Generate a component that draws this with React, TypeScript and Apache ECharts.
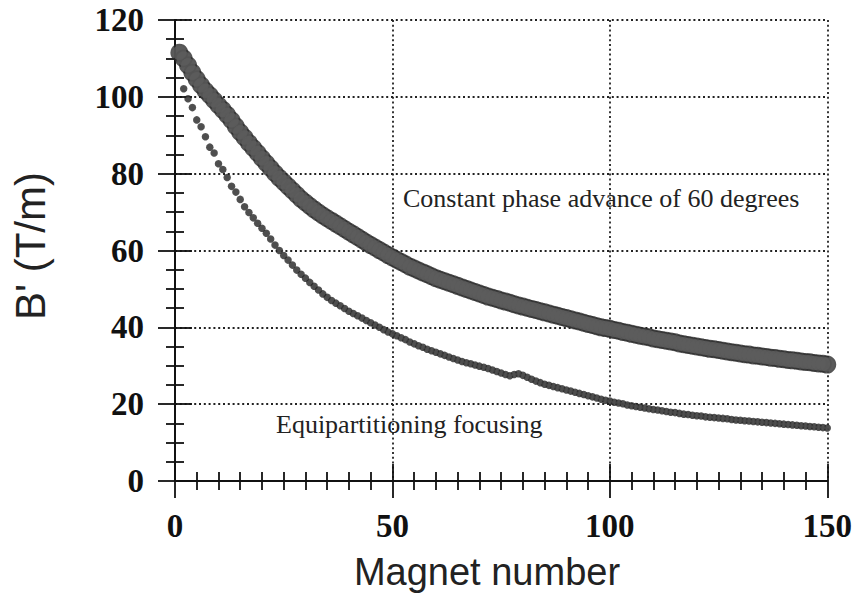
import React, { useEffect, useRef } from "react";
import * as echarts from "echarts";

// B' (T/m) for constant phase advance of 60 degrees, magnets n = 1..150
const constantPhase: number[] = [
  111.5, 110.0, 108.2, 106.3, 104.6, 103.0, 101.6, 100.4, 99.1, 97.8,
  96.6, 95.3, 93.9, 92.3, 90.8, 89.4, 88.0, 86.7, 85.4, 84.0,
  82.7, 81.4, 80.1, 78.9, 77.8, 76.7, 75.6, 74.5, 73.4, 72.5,
  71.6, 70.7, 69.9, 69.1, 68.4, 67.7, 67.0, 66.3, 65.6, 64.9,
  64.2, 63.5, 62.8, 62.1, 61.4, 60.8, 60.1, 59.5, 58.8, 58.2,
  57.6, 57.0, 56.4, 55.8, 55.3, 54.8, 54.3, 53.8, 53.3, 52.8,
  52.4, 52.0, 51.6, 51.2, 50.8, 50.4, 50.0, 49.6, 49.2, 48.8,
  48.4, 48.0, 47.7, 47.4, 47.0, 46.7, 46.4, 46.0, 45.7, 45.4,
  45.1, 44.8, 44.5, 44.2, 43.9, 43.6, 43.3, 43.0, 42.7, 42.4,
  42.1, 41.8, 41.5, 41.2, 40.9, 40.6, 40.3, 40.0, 39.8, 39.6,
  39.3, 39.1, 38.8, 38.6, 38.3, 38.1, 37.8, 37.6, 37.4, 37.1,
  36.9, 36.7, 36.5, 36.3, 36.1, 35.8, 35.6, 35.4, 35.2, 35.0,
  34.8, 34.6, 34.4, 34.3, 34.1, 33.9, 33.7, 33.5, 33.4, 33.2,
  33.0, 32.9, 32.7, 32.6, 32.4, 32.3, 32.1, 32.0, 31.8, 31.7,
  31.5, 31.4, 31.3, 31.1, 31.0, 30.9, 30.7, 30.6, 30.5, 30.3,
];
const constantPhaseStart = 1;

// B' (T/m) for equipartitioning focusing, magnets n = 2..150
const equipartitioning: number[] = [
  102.1, 99.5, 97.2, 94.0, 92.2, 89.6, 86.9, 85.4, 82.6,
  81.1, 79.0, 76.7, 75.2, 73.3, 71.4, 69.9, 68.5, 67.1, 65.8,
  64.5, 63.0, 61.4, 60.0, 58.7, 57.5, 56.2, 54.9, 53.8, 52.8,
  51.7, 50.7, 49.7, 48.7, 47.8, 47.0, 46.3, 45.6, 44.9, 44.2,
  43.6, 43.0, 42.4, 41.8, 41.2, 40.6, 40.0, 39.4, 38.8, 38.3,
  37.8, 37.3, 36.8, 36.2, 35.7, 35.2, 34.8, 34.3, 33.9, 33.5,
  33.1, 32.7, 32.3, 31.9, 31.5, 31.1, 30.8, 30.5, 30.2, 29.9,
  29.6, 29.3, 28.9, 28.5, 28.1, 27.7, 27.4, 27.7, 27.9, 27.5,
  27.0, 26.5, 26.0, 25.6, 25.2, 24.9, 24.6, 24.3, 24.0, 23.7,
  23.4, 23.1, 22.8, 22.5, 22.2, 21.9, 21.6, 21.3, 21.0, 20.8,
  20.5, 20.3, 20.1, 19.8, 19.6, 19.4, 19.2, 19.0, 18.8, 18.6,
  18.5, 18.3, 18.1, 17.9, 17.8, 17.6, 17.4, 17.3, 17.1, 17.0,
  16.9, 16.7, 16.6, 16.5, 16.4, 16.3, 16.2, 16.0, 15.9, 15.8,
  15.7, 15.6, 15.5, 15.4, 15.3, 15.2, 15.1, 15.0, 14.9, 14.8,
  14.7, 14.6, 14.5, 14.4, 14.3, 14.2, 14.1, 14.0, 13.9, 13.8,
];
const equipartitioningStart = 2;

const xRange = { min: 0, max: 150, interval: 50 };
const yRange = { min: 0, max: 120, interval: 20 };

const xAxisTitle = "Magnet number";
const yAxisTitle = "B' (T/m)";
const constantLabel = "Constant phase advance of 60 degrees";
const equipLabel = "Equipartitioning focusing";

const toPairs = (vals: number[], start: number) =>
  vals.map((v, i) => [start + i, v]);

export default function App() {
  const ref = useRef<HTMLDivElement>(null);

  useEffect(() => {
    if (!ref.current) return;
    const chart = echarts.init(ref.current, undefined, { renderer: "svg" });

    const serif = "'Liberation Serif', 'Times New Roman', serif";
    const sans = "'Liberation Sans', Arial, sans-serif";
    const axisLine = { show: true, lineStyle: { color: "#111", width: 2 } };
    const tick = { show: true, inside: true, length: 17, lineStyle: { color: "#111", width: 1.8 } };
    const minor = (n: number) => ({ show: true, splitNumber: n, length: 9, lineStyle: { color: "#111", width: 1.8 } });
    const splitLine = { show: true, lineStyle: { color: "#222", width: 1.8, type: [2, 2.8] } };

    const upper = toPairs(constantPhase, constantPhaseStart);
    const lower = toPairs(equipartitioning, equipartitioningStart);

    chart.setOption({
      animation: false,
      backgroundColor: "#fff",
      grid: { left: 175, right: 24, top: 20, bottom: 113, containLabel: false },
      xAxis: [
        {
          type: "value", ...xRange, position: "bottom",
          axisLine, axisTick: tick, minorTick: minor(10),
          axisLabel: { show: true, margin: 28, color: "#111", fontFamily: serif, fontWeight: "bold", fontSize: 33 },
          splitLine,
        },
        {
          type: "value", ...xRange, position: "top",
          axisLine, axisTick: tick, minorTick: minor(10),
          axisLabel: { show: false }, splitLine: { show: false },
        },
      ],
      yAxis: [
        {
          type: "value", ...yRange, position: "left",
          axisLine, axisTick: tick, minorTick: minor(4),
          axisLabel: { show: true, margin: 31, color: "#111", fontFamily: serif, fontWeight: "bold", fontSize: 33 },
          splitLine,
        },
        {
          type: "value", ...yRange, position: "right",
          axisLine, axisTick: tick, minorTick: minor(4),
          axisLabel: { show: false }, splitLine: { show: false },
        },
      ],
      series: [
        {
          name: equipLabel,
          type: "scatter",
          symbol: "circle", symbolSize: 7.5,
          itemStyle: { color: "#262626" },
          data: lower,
          z: 3,
        },
        {
          name: equipLabel + " fill",
          type: "scatter",
          symbol: "circle", symbolSize: 4.5,
          itemStyle: { color: "#4e4e4e" },
          data: lower,
          z: 4,
        },
        {
          name: constantLabel,
          type: "scatter",
          symbol: "circle", symbolSize: 18,
          itemStyle: { color: "#2c2c2c" },
          data: upper,
          z: 5,
        },
        {
          name: constantLabel + " fill",
          type: "scatter",
          symbol: "circle", symbolSize: 14.5,
          itemStyle: { color: "#5d5d5d" },
          data: upper,
          z: 6,
        },
      ],
      graphic: [
        {
          type: "text", x: 403, y: 198, z: 10,
          style: { text: constantLabel, font: `26px ${serif}`, fill: "#222", textAlign: "left", textVerticalAlign: "middle" },
        },
        {
          type: "text", x: 276, y: 424, z: 10,
          style: { text: equipLabel, font: `26px ${serif}`, fill: "#222", textAlign: "left", textVerticalAlign: "middle" },
        },
        {
          type: "text", x: 487, y: 572, z: 10,
          style: { text: xAxisTitle, font: `38px ${sans}`, fill: "#222", textAlign: "center", textVerticalAlign: "middle" },
        },
        {
          type: "text", x: 30, y: 246, rotation: Math.PI / 2, z: 10,
          style: { text: yAxisTitle, font: `42px ${sans}`, fill: "#222", textAlign: "center", textVerticalAlign: "middle" },
        },
      ],
    });

    return () => chart.dispose();
  }, []);

  return (
    <div
      ref={ref}
      style={{ position: "fixed", left: 0, top: 0, width: 855, height: 594, background: "#fff" }}
    />
  );
}
